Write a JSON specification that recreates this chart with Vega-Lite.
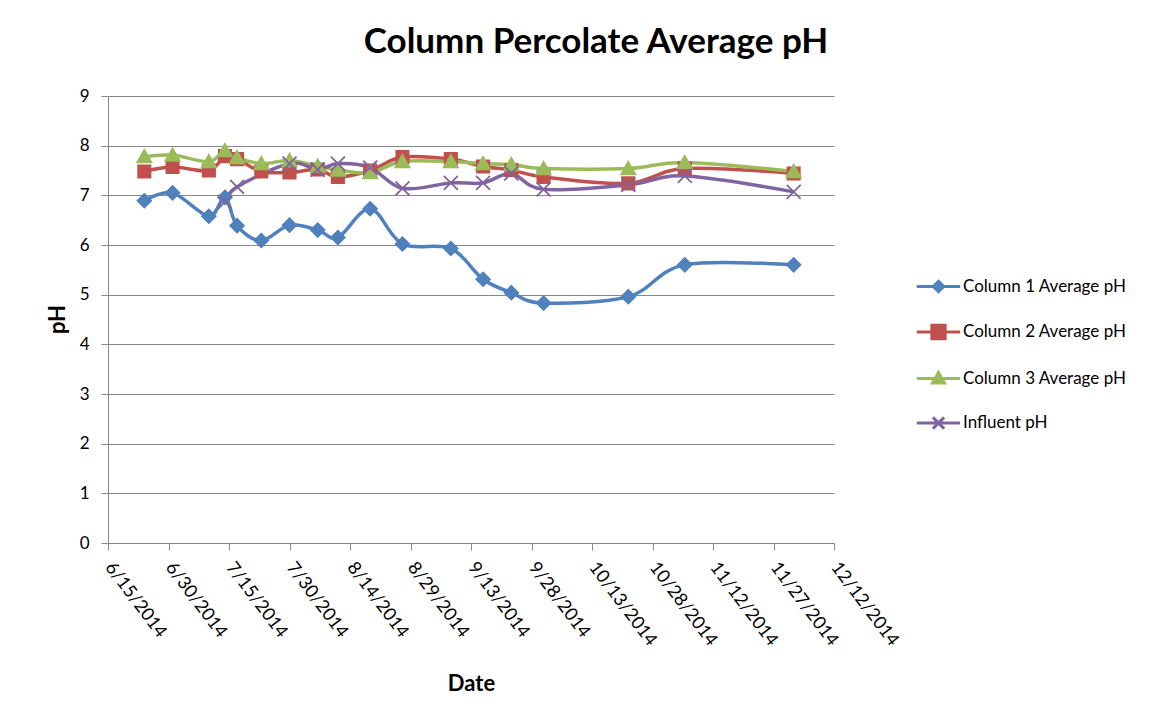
{
  "$schema": "https://vega.github.io/schema/vega-lite/v6.json",
  "width": 726,
  "height": 447,
  "autosize": {"type": "none"},
  "padding": {"left": 108, "top": 96, "right": 339, "bottom": 179},
  "background": "white",
  "title": {"text": "Column Percolate Average pH", "font": "Lato", "fontSize": 35, "fontWeight": "bold", "color": "#000000", "anchor": "middle", "frame": "group", "dx": 125, "baseline": "alphabetic", "offset": -1},
  "config": {
    "view": {"stroke": null},
    "axis": {"labelFont": "Lato", "labelFontSize": 18, "labelColor": "#000000", "titleFont": "Lato", "titleFontSize": 22, "titleFontWeight": "bold", "titleColor": "#000000", "domainColor": "#888888", "tickColor": "#888888", "gridColor": "#888888", "tickSize": 7, "domainWidth": 1, "tickWidth": 1, "gridWidth": 1},
    "legend": {
      "title": null, "orient": "none", "legendX": 800, "legendY": 182, "padding": 0,
      "labelFont": "Lato", "labelFontSize": 17, "labelColor": "#000000", "labelLimit": 0,
      "symbolSize": 196, "symbolStrokeWidth": 3, "symbolOffset": 22, "labelOffset": 16, "rowPadding": 20.5
    }
  },
  "data": {"values": [
    {"date": "2014-06-24", "series": "Column 1 Average pH", "pH": 6.89},
    {"date": "2014-07-01", "series": "Column 1 Average pH", "pH": 7.05},
    {"date": "2014-07-10", "series": "Column 1 Average pH", "pH": 6.58},
    {"date": "2014-07-14", "series": "Column 1 Average pH", "pH": 6.96},
    {"date": "2014-07-17", "series": "Column 1 Average pH", "pH": 6.39},
    {"date": "2014-07-23", "series": "Column 1 Average pH", "pH": 6.09},
    {"date": "2014-07-30", "series": "Column 1 Average pH", "pH": 6.40},
    {"date": "2014-08-06", "series": "Column 1 Average pH", "pH": 6.30},
    {"date": "2014-08-11", "series": "Column 1 Average pH", "pH": 6.15},
    {"date": "2014-08-19", "series": "Column 1 Average pH", "pH": 6.73},
    {"date": "2014-08-27", "series": "Column 1 Average pH", "pH": 6.02},
    {"date": "2014-09-08", "series": "Column 1 Average pH", "pH": 5.93},
    {"date": "2014-09-16", "series": "Column 1 Average pH", "pH": 5.31},
    {"date": "2014-09-23", "series": "Column 1 Average pH", "pH": 5.04},
    {"date": "2014-10-01", "series": "Column 1 Average pH", "pH": 4.83},
    {"date": "2014-10-22", "series": "Column 1 Average pH", "pH": 4.96},
    {"date": "2014-11-05", "series": "Column 1 Average pH", "pH": 5.60},
    {"date": "2014-12-02", "series": "Column 1 Average pH", "pH": 5.60},
    {"date": "2014-06-24", "series": "Column 2 Average pH", "pH": 7.48},
    {"date": "2014-07-01", "series": "Column 2 Average pH", "pH": 7.57},
    {"date": "2014-07-10", "series": "Column 2 Average pH", "pH": 7.50},
    {"date": "2014-07-14", "series": "Column 2 Average pH", "pH": 7.79},
    {"date": "2014-07-17", "series": "Column 2 Average pH", "pH": 7.73},
    {"date": "2014-07-23", "series": "Column 2 Average pH", "pH": 7.48},
    {"date": "2014-07-30", "series": "Column 2 Average pH", "pH": 7.46},
    {"date": "2014-08-06", "series": "Column 2 Average pH", "pH": 7.52},
    {"date": "2014-08-11", "series": "Column 2 Average pH", "pH": 7.37},
    {"date": "2014-08-19", "series": "Column 2 Average pH", "pH": 7.50},
    {"date": "2014-08-27", "series": "Column 2 Average pH", "pH": 7.77},
    {"date": "2014-09-08", "series": "Column 2 Average pH", "pH": 7.73},
    {"date": "2014-09-16", "series": "Column 2 Average pH", "pH": 7.58},
    {"date": "2014-09-23", "series": "Column 2 Average pH", "pH": 7.51},
    {"date": "2014-10-01", "series": "Column 2 Average pH", "pH": 7.37},
    {"date": "2014-10-22", "series": "Column 2 Average pH", "pH": 7.24},
    {"date": "2014-11-05", "series": "Column 2 Average pH", "pH": 7.54},
    {"date": "2014-12-02", "series": "Column 2 Average pH", "pH": 7.44},
    {"date": "2014-06-24", "series": "Column 3 Average pH", "pH": 7.78},
    {"date": "2014-07-01", "series": "Column 3 Average pH", "pH": 7.81},
    {"date": "2014-07-10", "series": "Column 3 Average pH", "pH": 7.68},
    {"date": "2014-07-14", "series": "Column 3 Average pH", "pH": 7.90},
    {"date": "2014-07-17", "series": "Column 3 Average pH", "pH": 7.76},
    {"date": "2014-07-23", "series": "Column 3 Average pH", "pH": 7.64},
    {"date": "2014-07-30", "series": "Column 3 Average pH", "pH": 7.70},
    {"date": "2014-08-06", "series": "Column 3 Average pH", "pH": 7.59},
    {"date": "2014-08-11", "series": "Column 3 Average pH", "pH": 7.51},
    {"date": "2014-08-19", "series": "Column 3 Average pH", "pH": 7.46},
    {"date": "2014-08-27", "series": "Column 3 Average pH", "pH": 7.68},
    {"date": "2014-09-08", "series": "Column 3 Average pH", "pH": 7.68},
    {"date": "2014-09-16", "series": "Column 3 Average pH", "pH": 7.64},
    {"date": "2014-09-23", "series": "Column 3 Average pH", "pH": 7.62},
    {"date": "2014-10-01", "series": "Column 3 Average pH", "pH": 7.54},
    {"date": "2014-10-22", "series": "Column 3 Average pH", "pH": 7.54},
    {"date": "2014-11-05", "series": "Column 3 Average pH", "pH": 7.66},
    {"date": "2014-12-02", "series": "Column 3 Average pH", "pH": 7.48},
    {"date": "2014-07-14", "series": "Influent pH", "pH": 6.87},
    {"date": "2014-07-17", "series": "Influent pH", "pH": 7.17},
    {"date": "2014-07-30", "series": "Influent pH", "pH": 7.64},
    {"date": "2014-08-06", "series": "Influent pH", "pH": 7.52},
    {"date": "2014-08-11", "series": "Influent pH", "pH": 7.64},
    {"date": "2014-08-19", "series": "Influent pH", "pH": 7.56},
    {"date": "2014-08-27", "series": "Influent pH", "pH": 7.14},
    {"date": "2014-09-08", "series": "Influent pH", "pH": 7.25},
    {"date": "2014-09-16", "series": "Influent pH", "pH": 7.25},
    {"date": "2014-09-23", "series": "Influent pH", "pH": 7.44},
    {"date": "2014-10-01", "series": "Influent pH", "pH": 7.12},
    {"date": "2014-10-22", "series": "Influent pH", "pH": 7.21},
    {"date": "2014-11-05", "series": "Influent pH", "pH": 7.39},
    {"date": "2014-12-02", "series": "Influent pH", "pH": 7.07}
  ]},
  "encoding": {
    "x": {
      "field": "date", "type": "temporal",
      "scale": {"type": "utc", "domain": [{"year": 2014, "month": 6, "date": 15, "utc": true}, {"year": 2014, "month": 12, "date": 12, "utc": true}], "nice": false},
      "axis": {
        "title": "Date", "grid": false, "labelExpr": "utcFormat(datum.value, '%-m/%-d/%Y')",
        "labelAngle": 53, "labelAlign": "left", "labelBaseline": "middle", "labelPadding": 14, "labelOverlap": false, "labelFlush": false, "labelBound": false,
        "values": [
          {"year": 2014, "month": 6, "date": 15, "utc": true},
          {"year": 2014, "month": 6, "date": 30, "utc": true},
          {"year": 2014, "month": 7, "date": 15, "utc": true},
          {"year": 2014, "month": 7, "date": 30, "utc": true},
          {"year": 2014, "month": 8, "date": 14, "utc": true},
          {"year": 2014, "month": 8, "date": 29, "utc": true},
          {"year": 2014, "month": 9, "date": 13, "utc": true},
          {"year": 2014, "month": 9, "date": 28, "utc": true},
          {"year": 2014, "month": 10, "date": 13, "utc": true},
          {"year": 2014, "month": 10, "date": 28, "utc": true},
          {"year": 2014, "month": 11, "date": 12, "utc": true},
          {"year": 2014, "month": 11, "date": 27, "utc": true},
          {"year": 2014, "month": 12, "date": 12, "utc": true}
        ],
        "titleX": 363, "titleY": 140, "titleBaseline": "middle", "titleAlign": "center"
      }
    },
    "y": {
      "field": "pH", "type": "quantitative",
      "scale": {"domain": [0, 9], "nice": false, "zero": true},
      "axis": {"title": "pH", "grid": true, "values": [0,1,2,3,4,5,6,7,8,9], "labelPadding": 12, "labelFontSize": 17, "titleX": -51, "titleY": 223, "titleAngle": 270, "titleBaseline": "middle", "titleAlign": "center"}
    }
  },
  "layer": [
    {
      "mark": {"type": "line", "interpolate": "cardinal", "strokeWidth": 3.5},
      "encoding": {
        "color": {
          "field": "series", "type": "nominal",
          "scale": {"domain": ["Column 1 Average pH", "Column 2 Average pH", "Column 3 Average pH", "Influent pH"], "range": ["#4F81BD", "#C0504D", "#9BBB59", "#8064A2"]},
          "legend": {
            "encode": {
              "symbols": {
                "update": {
                  "shape": {"signal": "datum.value === 'Column 1 Average pH' ? 'M-3.1,0H3.1M0,-0.75L0.75,0L0,0.75L-0.75,0Z' : datum.value === 'Column 2 Average pH' ? 'M-3.1,0H3.1M-0.95,-0.95H0.95V0.95H-0.95Z' : datum.value === 'Column 3 Average pH' ? 'M-3.1,0H3.1M0,-0.85L0.85,0.65H-0.85Z' : 'M-3.1,0H3.1M-0.8,-0.8L0.8,0.8M-0.8,0.8L0.8,-0.8'"},
                  "fill": {"scale": "color", "field": "value"},
                  "stroke": {"scale": "color", "field": "value"},
                  "strokeWidth": {"value": 3},
                  "opacity": {"value": 1}
                }
              }
            }
          }
        }
      }
    },
    {
      "transform": [{"filter": {"field": "series", "equal": "Column 1 Average pH"}}],
      "mark": {"type": "point", "shape": "M0,-1L1,0L0,1L-1,0Z", "filled": true, "fill": "#4F81BD", "stroke": "#4F81BD", "strokeWidth": 1.5, "size": 196, "opacity": 1},
      "encoding": {}
    },
    {
      "transform": [{"filter": {"field": "series", "equal": "Column 2 Average pH"}}],
      "mark": {"type": "point", "shape": "M-0.9,-0.9H0.9V0.9H-0.9Z", "filled": true, "fill": "#C0504D", "stroke": "#C0504D", "strokeWidth": 1.5, "size": 196, "opacity": 1},
      "encoding": {}
    },
    {
      "transform": [{"filter": {"field": "series", "equal": "Column 3 Average pH"}}],
      "mark": {"type": "point", "shape": "M0,-1L1.05,0.85H-1.05Z", "filled": true, "fill": "#9BBB59", "stroke": "#9BBB59", "strokeWidth": 1.5, "size": 196, "opacity": 1},
      "encoding": {}
    },
    {
      "transform": [{"filter": {"field": "series", "equal": "Influent pH"}}],
      "mark": {"type": "point", "shape": "M-1,-1L1,1M-1,1L1,-1", "filled": false, "fill": "#8064A2", "stroke": "#8064A2", "strokeWidth": 1.8, "size": 196, "opacity": 1},
      "encoding": {}
    }
  ]
}
